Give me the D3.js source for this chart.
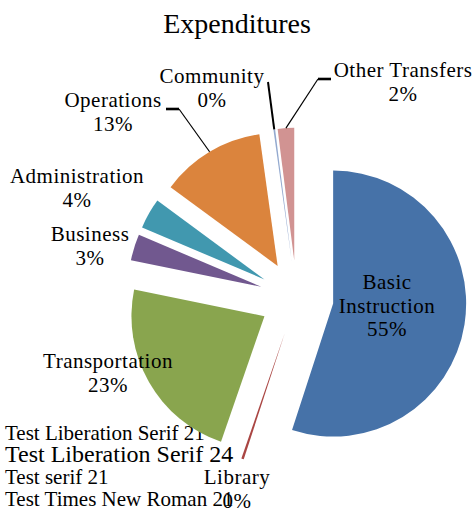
<!DOCTYPE html>
<html><head><meta charset="utf-8">
<script src="https://cdn.jsdelivr.net/npm/d3@7/dist/d3.min.js"></script>
</head><body style="margin:0">
<svg id="c" width="475" height="516"></svg>
<script>
// ---- data ----
const categories = ["Basic Instruction", "Library", "Transportation", "Business",
                    "Administration", "Operations", "Community", "Other Transfers"];
const values = [55.0, 0.3, 22.9, 3.2, 3.7, 12.7, 0.2, 2.0];
const colors = ["#4672A8", "#AA4643", "#89A54E", "#71588F",
                "#4198AF", "#DB843D", "#93A9CF", "#D19392"];
const labelLines = [["Basic", "Instruction"], ["Library"], ["Transportation"], ["Business"],
                    ["Administration"], ["Operations"], ["Community"], ["Other Transfers"]];

// ---- layout (not data) ----
const cx = 296.6, cy = 297.8, R = 133, explode = 37;
const labelPos = [
  [387, 289], [237, 484], [108, 368], [90, 241],
  [77, 183], [113, 107], [212, 83], [403, 77]
];
const lineH = 23.5;
const leaders = {
  5: {start: [166, 109], stub: [179, 109], w: 1.2},
  6: {start: [268, 82], stub: null, w: 2},
  7: {start: [331, 79], stub: [318, 79], w: 1.2}
};

const svg = d3.select("#c");

// diagnostic
[["Liberation Serif", 21], ["Liberation Serif", 24], ["serif", 21], ["Times New Roman", 21]].forEach((f, i) => {
  svg.append("text").attr("x", 5).attr("y", 440 + i * 22)
    .attr("font-family", f[0]).attr("font-size", f[1]).text("Test " + f[0] + " " + f[1]);
});

const pie = d3.pie().sort(null).startAngle(0).endAngle(2 * Math.PI);
const arcs = pie(values);
const arc = d3.arc().innerRadius(0).outerRadius(R);

const g = svg.append("g").attr("transform", `translate(${cx},${cy})`);

function offset(d) {
  const m = (d.startAngle + d.endAngle) / 2;
  return [explode * Math.sin(m), -explode * Math.cos(m)];
}

g.selectAll("path.slice")
  .data(arcs)
  .enter().append("path")
  .attr("class", "slice")
  .attr("d", arc)
  .attr("transform", d => { const o = offset(d); return `translate(${o[0]},${o[1]})`; })
  .attr("fill", (d, i) => colors[i]);

Object.keys(leaders).forEach(k => {
  const i = +k, d = arcs[i], L = leaders[k];
  const m = (d.startAngle + d.endAngle) / 2;
  const o = offset(d);
  const ex = cx + o[0] + R * Math.sin(m);
  const ey = cy + o[1] - R * Math.cos(m);
  const from = L.stub || L.start;
  if (L.stub) {
    svg.append("line")
      .attr("x1", L.start[0]).attr("y1", L.start[1])
      .attr("x2", L.stub[0]).attr("y2", L.stub[1])
      .attr("stroke", "#000").attr("stroke-width", 2.6);
  }
  svg.append("line")
    .attr("x1", from[0]).attr("y1", from[1])
    .attr("x2", ex).attr("y2", ey)
    .attr("stroke", "#000").attr("stroke-width", L.w);
});

svg.append("text")
  .attr("x", 237).attr("y", 33)
  .attr("text-anchor", "middle")
  .attr("font-family", "Liberation Serif")
  .attr("font-size", 28)
  .text("Expenditures");

arcs.forEach((d, i) => {
  const lines = labelLines[i].concat([Math.round(values[i]) + "%"]);
  lines.forEach((s, j) => {
    svg.append("text")
      .attr("x", labelPos[i][0])
      .attr("y", labelPos[i][1] + j * lineH)
      .attr("text-anchor", "middle")
      .attr("font-family", "Liberation Serif")
      .attr("font-size", 21)
      .attr("letter-spacing", 0.5)
      .text(s);
  });
});
</script>
</body>
</html>
